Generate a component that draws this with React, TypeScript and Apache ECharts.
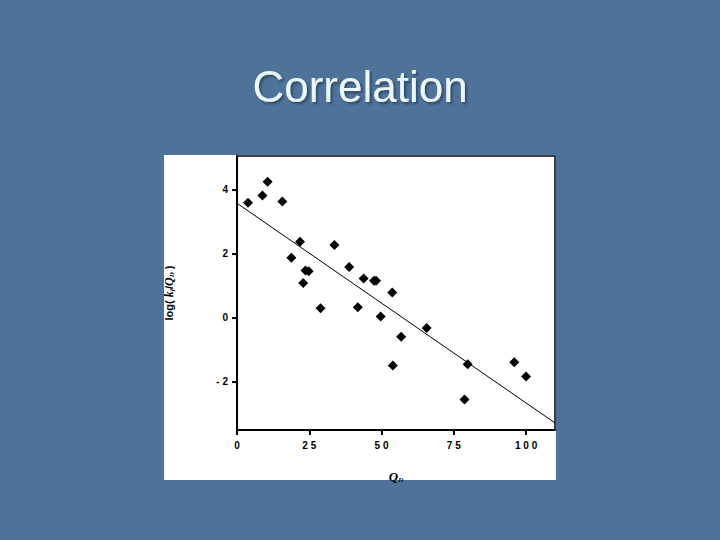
import React, { useEffect, useRef } from "react";
import * as echarts from "echarts";

const qdValues = [3.8, 8.8, 10.6, 15.7, 21.8, 18.8, 23.7, 24.8, 22.9, 28.9, 33.7, 38.8, 43.8, 47.4, 48.1, 53.7, 41.8, 49.7, 56.8, 65.6, 53.9, 79.8, 78.7, 95.9, 100.0];
const logValues = [3.59, 3.82, 4.25, 3.63, 2.375, 1.875, 1.48, 1.45, 1.09, 0.3, 2.27, 1.59, 1.23, 1.16, 1.16, 0.79, 0.33, 0.04, -0.59, -0.32, -1.49, -1.45, -2.55, -1.385, -1.83];
const fitX = [0, 110];
const fitY = [3.575, -3.28];
const xTickValues = [0, 25, 50, 75, 100];
const xTickLabels = ["0", "2 5", "5 0", "7 5", "1 0 0"];
const yTickValues = [-2, 0, 2, 4];
const yTickLabels = ["- 2", "0", "2", "4"];
const titleText = "Correlation";

export default function App() {
  const ref = useRef<HTMLDivElement>(null);
  useEffect(() => {
    if (!ref.current) return;
    const chart = echarts.init(ref.current, null, { renderer: "svg" });
    const points = qdValues.map((x, i) => [x, logValues[i]]);
    const fit = fitX.map((x, i) => [x, fitY[i]]);
    chart.setOption({
      animation: false,
      backgroundColor: "#4f7299",
      graphic: [
        { type: "rect", z: -10, shape: { x: 164, y: 155, width: 392, height: 325 }, style: { fill: "#ffffff" } },
        {
          type: "text",
          x: 360,
          y: 86,
          style: {
            text: titleText,
            fill: "#eaf7fb",
            font: "44px 'Liberation Sans', Arial, sans-serif",
            textAlign: "center",
            textVerticalAlign: "middle",
            textShadowColor: "rgba(20,40,70,0.55)",
            textShadowOffsetX: 2,
            textShadowOffsetY: 2,
            textShadowBlur: 2,
          },
        },
      ],
      grid: {
        left: 237,
        top: 156,
        right: 165,
        bottom: 110,
        show: true,
        borderColor: "#000",
        borderWidth: 1.5,
        backgroundColor: "transparent",
      },
      xAxis: {
        type: "value",
        min: 0,
        max: 110,
        name: "{q|Q}{s|D}",
        nameLocation: "middle",
        nameGap: 40,
        nameTextStyle: {
          rich: {
            q: { fontFamily: "'Liberation Serif', serif", fontStyle: "italic", fontWeight: "bold", fontSize: 13, color: "#000" },
            s: { fontFamily: "'Liberation Serif', serif", fontStyle: "italic", fontWeight: "bold", fontSize: 7, color: "#000", verticalAlign: "bottom", padding: [6, 0, 0, 0] },
          },
        },
        splitLine: { show: false },
        axisLine: { show: true, onZero: false, lineStyle: { color: "#000", width: 2 } },
        axisTick: { show: true, customValues: xTickValues, length: 5, inside: false, lineStyle: { color: "#000", width: 2 } },
        axisLabel: {
          customValues: xTickValues,
          margin: 10,
          color: "#000",
          fontWeight: "bold",
          fontSize: 10,
          fontFamily: "'Liberation Sans', Arial, sans-serif",
          formatter: (v: number) => {
            const idx = xTickValues.indexOf(v);
            return idx >= 0 ? xTickLabels[idx] : "";
          },
        },
      },
      yAxis: {
        type: "value",
        min: -3.5,
        max: 5.05,
        name: "log( {k|k}{s|f}{n|/}{k|Q}{s|D}{n| )}",
        nameLocation: "middle",
        nameGap: 62,
        nameRotate: 90,
        nameTextStyle: {
          color: "#000",
          fontWeight: "bold",
          fontSize: 11,
          fontFamily: "'Liberation Sans', Arial, sans-serif",
          rich: {
            n: { fontWeight: "bold", fontSize: 11, color: "#000", fontFamily: "'Liberation Sans', Arial, sans-serif" },
            k: { fontFamily: "'Liberation Serif', serif", fontStyle: "italic", fontWeight: "bold", fontSize: 12, color: "#000" },
            s: { fontFamily: "'Liberation Serif', serif", fontStyle: "italic", fontWeight: "bold", fontSize: 7, color: "#000", verticalAlign: "bottom", padding: [5, 0, 0, 0] },
          },
        },
        splitLine: { show: false },
        axisLine: { show: true, onZero: false, lineStyle: { color: "#000", width: 2 } },
        axisTick: { show: true, customValues: yTickValues, length: 5, inside: false, lineStyle: { color: "#000", width: 2 } },
        axisLabel: {
          customValues: yTickValues,
          margin: 9,
          color: "#000",
          fontWeight: "bold",
          fontSize: 10,
          fontFamily: "'Liberation Sans', Arial, sans-serif",
          formatter: (v: number) => {
            const idx = yTickValues.indexOf(v);
            return idx >= 0 ? yTickLabels[idx] : "";
          },
        },
      },
      series: [
        {
          type: "line",
          data: fit,
          symbol: "none",
          lineStyle: { color: "#000", width: 1 },
          z: 2,
        },
        {
          type: "scatter",
          data: points,
          symbol: "diamond",
          symbolSize: [10, 10],
          itemStyle: { color: "#000", opacity: 1 },
          z: 3,
        },
      ],
    });
    return () => chart.dispose();
  }, []);
  return (
    <div style={{ position: "fixed", left: 0, top: 0, width: 720, height: 540, margin: 0 }}>
      <div ref={ref} style={{ width: 720, height: 540 }} />
    </div>
  );
}
